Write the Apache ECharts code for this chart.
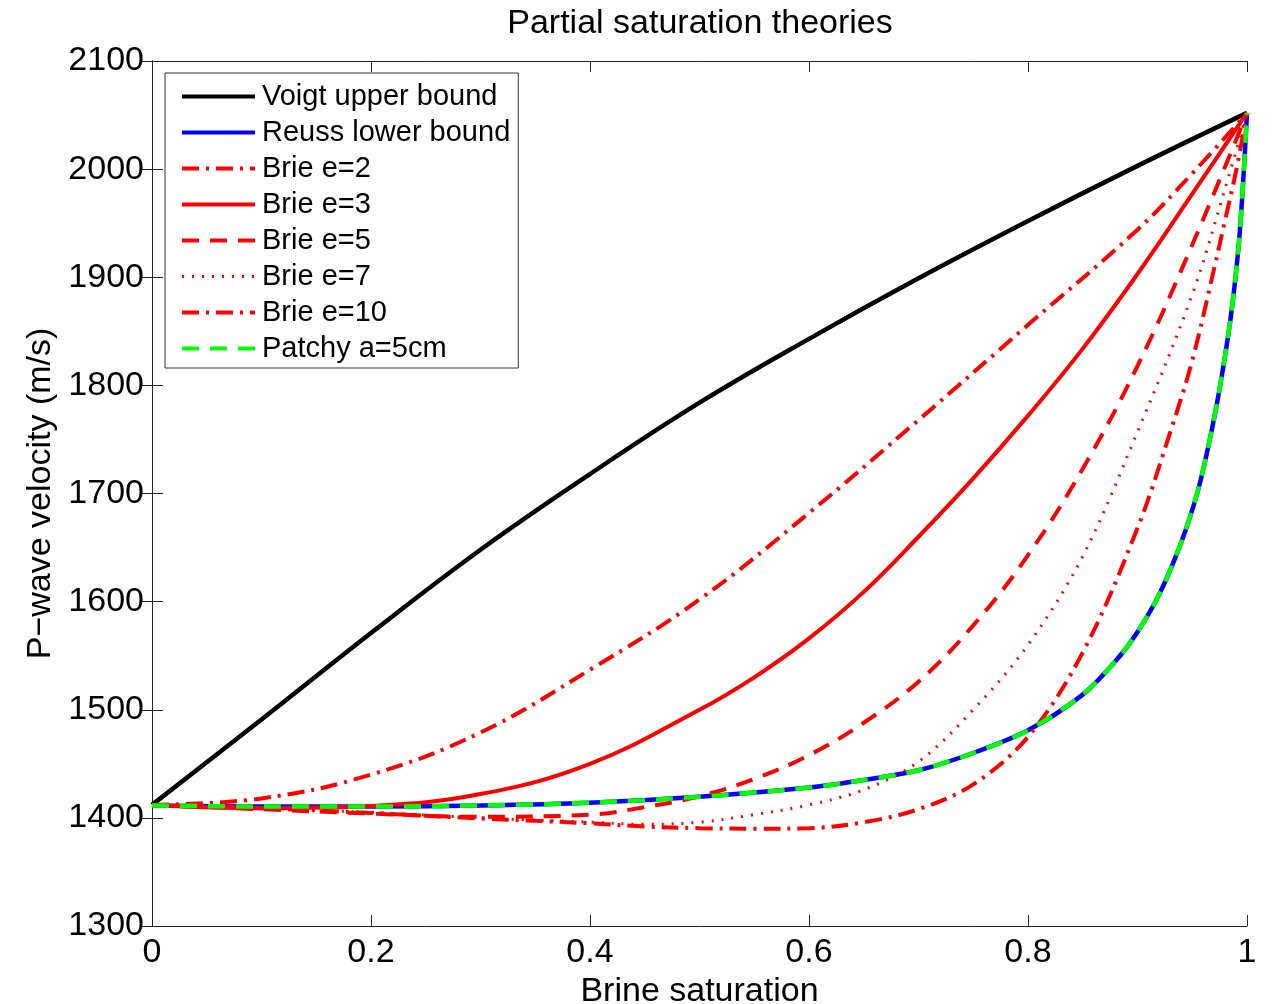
<!DOCTYPE html>
<html>
<head>
<meta charset="utf-8">
<script src="https://cdn.jsdelivr.net/npm/echarts@6/dist/echarts.min.js"></script>
<style>
html,body{margin:0;padding:0;background:#fff;}
#chart{width:1274px;height:1004px;}
</style>
</head>
<body>
<div id="chart"></div>
<script>
// ---- Data ----
const xTicks = [0, 0.2, 0.4, 0.6, 0.8, 1];
const yTicks = [1300, 1400, 1500, 1600, 1700, 1800, 1900, 2000, 2100];

const sVoigt = [0, 0.1, 0.2, 0.3, 0.4, 0.5, 0.6, 0.7, 0.8, 0.9, 1.0];
const vVoigt = [1412, 1491, 1571, 1648, 1718, 1784, 1843, 1899, 1952, 2003, 2052];

const sReuss = [0, 0.1, 0.2, 0.3, 0.4, 0.5, 0.6, 0.65, 0.7, 0.75, 0.8, 0.85, 0.88, 0.9, 0.92, 0.94, 0.955, 0.965, 0.975, 0.985, 0.992, 0.996, 1.0];
const vReuss = [1411.5, 1410.5, 1410.5, 1411.5, 1414, 1419.5, 1428, 1435, 1444, 1460, 1481, 1514, 1545, 1572, 1607, 1655, 1702, 1745, 1797, 1862, 1925, 1980, 2052];

const sBrie2 = [0, 0.1, 0.2, 0.3, 0.4, 0.5, 0.6, 0.7, 0.8, 0.9, 0.95, 1.0];
const vBrie2 = [1412, 1418, 1440, 1479, 1537, 1602, 1682, 1768, 1856, 1944, 1996, 2052];

const sBrie3 = [0, 0.1, 0.2, 0.3, 0.4, 0.5, 0.55, 0.6, 0.65, 0.7, 0.75, 0.8, 0.85, 0.9, 0.95, 1.0];
const vBrie3 = [1412, 1409, 1411, 1422, 1450, 1500, 1530, 1566, 1609, 1660, 1714, 1772, 1834, 1903, 1977, 2052];

const sBrie5 = [0, 0.1, 0.2, 0.3, 0.4, 0.45, 0.5, 0.55, 0.6, 0.65, 0.7, 0.75, 0.8, 0.85, 0.9, 0.95, 1.0];
const vBrie5 = [1412, 1408, 1404, 1401, 1403, 1410, 1420, 1436, 1458, 1488, 1526, 1578, 1643, 1723, 1818, 1930, 2052];

const sBrie7 = [0, 0.1, 0.2, 0.3, 0.4, 0.45, 0.5, 0.55, 0.6, 0.65, 0.7, 0.75, 0.8, 0.85, 0.9, 0.95, 0.98, 1.0];
const vBrie7 = [1412, 1409, 1405, 1400, 1396, 1394, 1396, 1403, 1412, 1426, 1452, 1500, 1560, 1642, 1757, 1884, 1982, 2052];

const sBrie10 = [0, 0.1, 0.2, 0.3, 0.4, 0.45, 0.5, 0.55, 0.6, 0.65, 0.7, 0.75, 0.8, 0.85, 0.9, 0.93, 0.95, 0.97, 0.98, 0.99, 1.0];
const vBrie10 = [1412, 1409, 1404.5, 1399.5, 1395, 1392, 1390.5, 1390, 1390.5, 1396, 1408, 1431, 1475, 1553, 1668, 1757, 1823, 1908, 1953, 1998, 2052];

const sPatchy = sReuss.slice();
const vPatchy = vReuss.slice();

const legendNames = ['Voigt upper bound', 'Reuss lower bound', 'Brie e=2', 'Brie e=3', 'Brie e=5', 'Brie e=7', 'Brie e=10', 'Patchy a=5cm'];

// ---- Build ----
function pairs(s, v) { return s.map((x, i) => [x, v[i]]); }
const FONT = "'Liberation Sans', Arial, Helvetica, sans-serif";

function line(name, s, v, color, width, type, z, smooth) {
  return {
    name: name, type: 'line', data: pairs(s, v),
    symbol: 'none', smooth: smooth,
    lineStyle: { color: color, width: width, type: type, cap: 'butt' },
    itemStyle: { color: color },
    z: z, animation: false, clip: true
  };
}

const dashDot = [17, 7, 3, 7];
const dashed = [17, 11];
const dotted = [2, 8];

const chart = echarts.init(document.getElementById('chart'), null, { renderer: 'canvas' });
const option = {
  backgroundColor: '#ffffff',
  animation: false,
  textStyle: { fontFamily: FONT },
  title: {
    text: 'Partial saturation theories',
    left: 695, top: 2, textAlign: 'center',
    textStyle: { fontFamily: FONT, fontSize: 34, fontWeight: 'normal', color: '#000' }
  },
  grid: { left: 152, right: 27, top: 61, bottom: 78, containLabel: false, outerBoundsMode: 'none' },
  legend: {
    orient: 'vertical', left: 165, top: 73,
    padding: [9, 8, 5, 15],
    itemWidth: 73, itemHeight: 2, itemGap: 7,
    backgroundColor: '#fff', borderColor: '#333', borderWidth: 1, borderRadius: 0,
    textStyle: { fontFamily: FONT, fontSize: 29, lineHeight: 28.6, color: '#000', padding: [0, 0, 0, 2] },
    itemStyle: { opacity: 0 },
    lineStyle: { width: 4 },
    data: legendNames.map(n => n === 'Brie e=7' ? { name: n, lineStyle: { width: 3 } } : { name: n }),
    z: 20
  },
  xAxis: [{
    type: 'value', min: 0, max: 1, interval: 0.2, position: 'bottom',
    name: 'Brine saturation', nameLocation: 'middle', nameGap: 48,
    nameTextStyle: { fontFamily: FONT, fontSize: 34, color: '#000' },
    axisLine: { show: true, lineStyle: { color: '#262626', width: 1 } },
    axisTick: { show: true, inside: true, length: 11, lineStyle: { color: '#262626' } },
    axisLabel: { fontFamily: FONT, fontSize: 34, color: '#000', margin: 10,
      formatter: v => String(Math.round(v * 10) / 10) },
    splitLine: { show: false }
  }, {
    type: 'value', min: 0, max: 1, interval: 0.2, position: 'top',
    axisLine: { show: true, lineStyle: { color: '#262626', width: 1 } },
    axisTick: { show: true, inside: true, length: 11, lineStyle: { color: '#262626' } },
    axisLabel: { show: false }, splitLine: { show: false }
  }],
  yAxis: [{
    type: 'value', min: 1300, max: 2100, interval: 100, position: 'left',
    name: 'P\u2212wave velocity (m/s)', nameLocation: 'middle', nameGap: 88, nameRotate: 90,
    nameTextStyle: { fontFamily: FONT, fontSize: 34, color: '#000' },
    axisLine: { show: true, lineStyle: { color: '#262626', width: 1 } },
    axisTick: { show: true, inside: true, length: 11, lineStyle: { color: '#262626' } },
    axisLabel: { fontFamily: FONT, fontSize: 34, color: '#000', margin: 8,
      formatter: v => String(v) },
    splitLine: { show: false }
  }, {
    type: 'value', min: 1300, max: 2100, interval: 100, position: 'right',
    axisLine: { show: true, lineStyle: { color: '#262626', width: 1 } },
    axisTick: { show: true, inside: true, length: 11, lineStyle: { color: '#262626' } },
    axisLabel: { show: false }, splitLine: { show: false }
  }],
  series: [
    line('Voigt upper bound', sVoigt, vVoigt, '#000000', 4.5, 'solid', 2, 0.4),
    line('Reuss lower bound', sReuss, vReuss, '#0000ff', 4.5, 'solid', 3, 0.3),
    line('Brie e=2', sBrie2, vBrie2, '#ff0000', 4, dashDot, 4, 0.4),
    line('Brie e=3', sBrie3, vBrie3, '#ff0000', 4, 'solid', 4, 0.4),
    line('Brie e=5', sBrie5, vBrie5, '#ff0000', 4, dashed, 4, 0.4),
    line('Brie e=7', sBrie7, vBrie7, '#ff0000', 3, dotted, 4, 0.35),
    line('Brie e=10', sBrie10, vBrie10, '#ff0000', 4, dashDot, 4, 0.35),
    line('Patchy a=5cm', sPatchy, vPatchy, '#00ff00', 4.5, dashed, 5, 0.3)
  ]
};
chart.setOption(option);
</script>
</body>
</html>
